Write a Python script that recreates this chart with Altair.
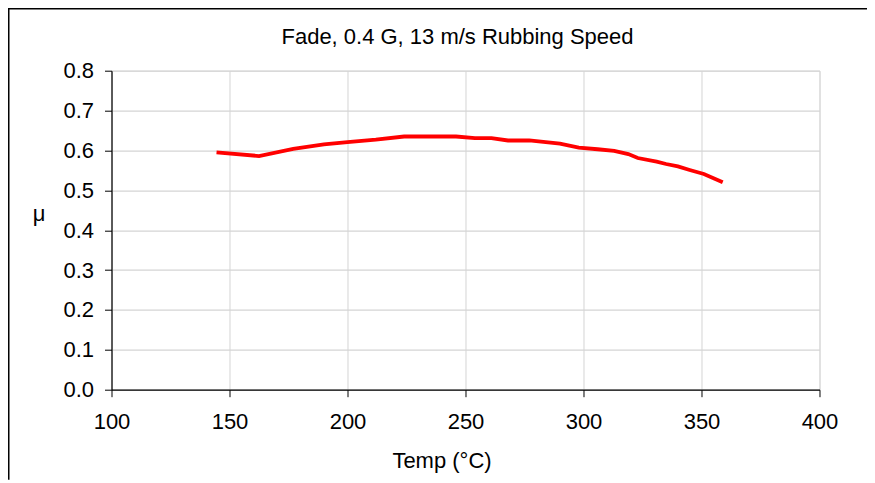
import altair as alt
import pandas as pd

temp = [144.5, 162.5, 177, 190, 200, 212, 224, 236, 246, 254, 261, 268, 277,
        290, 298, 306, 313, 319, 323, 331, 335, 340, 345, 351, 359]
mu = [0.595, 0.586, 0.604, 0.615, 0.621, 0.627, 0.635, 0.635, 0.635, 0.631,
      0.631, 0.625, 0.625, 0.617, 0.607, 0.603, 0.599, 0.591, 0.581, 0.572,
      0.566, 0.560, 0.551, 0.541, 0.520]
x_ticks = [100, 150, 200, 250, 300, 350, 400]
y_ticks = [0.0, 0.1, 0.2, 0.3, 0.4, 0.5, 0.6, 0.7, 0.8]
title_text = "Fade, 0.4 G, 13 m/s Rubbing Speed"

df = pd.DataFrame({"Temp": temp, "mu": mu})
FONT = "Liberation Sans"
FS = 22
W, H = 708, 319
PL, PT, PR, PB = 103.5, 62.7, 47.5, 90

line = alt.Chart(df).mark_line(color="#ff0000", strokeWidth=3.8).encode(
    x=alt.X("Temp:Q", scale=alt.Scale(domain=[100, 400], nice=False),
            axis=alt.Axis(values=x_ticks, title="Temp (°C)", format="d",
                          grid=True, gridColor="#d4d4d4", gridWidth=1,
                          domainColor="#000000", domainWidth=1.2,
                          tickColor="#000000", tickSize=7,
                          labelFont=FONT, labelFontSize=FS, labelColor="#000000",
                          labelPadding=15, labelBaseline="top", labelFlush=False,
                          labelOverlap=False,
                          titleFont=FONT, titleFontSize=FS, titleFontWeight="normal",
                          titleColor="#000000", titleX=330, titleY=78,
                          titleBaseline="alphabetic", titleAlign="center")),
    y=alt.Y("mu:Q", scale=alt.Scale(domain=[0, 0.8], nice=False),
            axis=alt.Axis(values=y_ticks, title="μ", format=".1f",
                          grid=True, gridColor="#d4d4d4", gridWidth=1.2,
                          domainColor="#000000", domainWidth=1.2,
                          tickColor="#000000", tickSize=7,
                          labelFont=FONT, labelFontSize=FS, labelColor="#000000",
                          labelPadding=11, labelFlush=False, labelOverlap=False,
                          titleFont=FONT, titleFontSize=FS, titleFontWeight="normal",
                          titleColor="#000000", titleAngle=0, titleX=-73, titleY=150,
                          titleBaseline="alphabetic", titleAlign="center")),
)

frame_df = pd.DataFrame({"k": [0]})
frame_v = alt.Chart(frame_df).mark_rule(color="#000000", strokeWidth=1.5).encode(
    x=alt.value(-PL + 0.75), y=alt.value(-PT), y2=alt.value(H + PB))
frame_h = alt.Chart(frame_df).mark_rule(color="#000000", strokeWidth=1.5).encode(
    y=alt.value(-PT + 0.75), x=alt.value(-PL), x2=alt.value(W + PR))

chart = alt.layer(line, frame_v, frame_h).properties(
    width=W, height=H,
    autosize=alt.AutoSizeParams(type="none"),
    padding={"left": PL, "top": PT, "right": PR, "bottom": PB},
    title=alt.TitleParams(title_text, font=FONT, fontSize=FS, fontWeight="normal",
                          color="#000000", anchor="middle", dx=-8,
                          baseline="alphabetic", offset=-59),
).configure_view(stroke="#808080", strokeWidth=1.5).configure(background="white")

chart.save("out.html", embed_options={"renderer": "svg", "actions": False})
